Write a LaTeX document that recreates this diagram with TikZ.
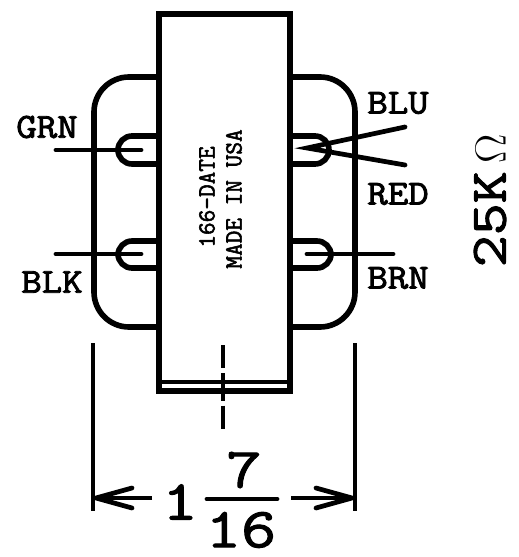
\documentclass[tikz,border=0pt]{standalone}
\usepackage{fontspec}
\newfontfamily\stampfont[FakeBold=2.2]{Latin Modern Mono}
\newfontfamily\wirefont[FakeBold=2.6,FakeStretch=1.13]{Latin Modern Mono}
\newfontfamily\dimfont[FakeBold=2,FakeStretch=1.22]{Latin Modern Mono}
\tikzset{
    outline/.style={line width=3.2pt},
    lead/.style={line width=2.7pt, line cap=round},
    dimline/.style={line width=2pt},
    wire/.style={font=\fontsize{20}{20}\selectfont\wirefont, inner sep=0pt},
    stamp/.style={font=\fontsize{14}{14}\selectfont\stampfont, inner sep=0pt, rotate=90},
    dimtext/.style={font=\fontsize{32}{32}\selectfont\dimfont, inner sep=0pt},
}
\begin{document}
\begin{tikzpicture}[x=0.02cm, y=-0.02cm]
    \useasboundingbox (0,0) rectangle (518,557);
    % core
    \draw[outline] (159,14) rectangle (290,391);
    \draw[line width=2.2pt] (159,382) -- (290,382);
    % frame on both sides
    \draw[outline, rounded corners=0.7cm] (159,77) -- (94,77) -- (94,327) -- (159,327);
    \draw[outline, rounded corners=0.7cm] (290,77) -- (355,77) -- (355,327) -- (290,327);
    % terminals
    \draw[outline, rounded corners=0.28cm] (159,136) -- (118,136) -- (118,164) -- (159,164);
    \draw[outline, rounded corners=0.28cm] (159,241) -- (118,241) -- (118,268) -- (159,268);
    \draw[outline, rounded corners=0.28cm] (290,136) -- (329,136) -- (329,164) -- (290,164);
    \draw[outline, rounded corners=0.28cm] (290,241) -- (331,241) -- (331,268) -- (290,268);
    % leads
    \coordinate (grnin) at (141,150);
    \coordinate (grnout) at (56,150);
    \coordinate (blkin) at (141,254);
    \coordinate (blkout) at (56,254);
    \coordinate (tap) at (307,148);
    \coordinate (bluout) at (405,127);
    \coordinate (redout) at (405,165);
    \coordinate (brnin) at (307,254);
    \coordinate (brnout) at (393,254);
    \draw[lead] (grnout) -- (grnin);
    \draw[lead] (blkout) -- (blkin);
    \draw[lead] (bluout) -- (tap) -- (redout);
    \draw[lead] (brnin) -- (brnout);
    % labels
    \node[wire] (grn) at (47,127) {GRN};
    \node[wire] (blk) at (52,282) {BLK};
    \node[wire] (blu) at (398,103) {BLU};
    \node[wire] (red) at (398,194) {RED};
    \node[wire] (brn) at (398,278) {BRN};
    \node[stamp] (date) at (207,197) {166-DATE};
    \node[stamp] (usa) at (234,199) {MADE IN USA};
    \node[dimtext, font=\fontsize{29}{29}\selectfont\dimfont, rotate=90] (ohms) at (490,201) {25K$\,\Omega$};
    % centre line
    \draw[line width=2pt, dash pattern=on 13pt off 3pt on 16pt off 2.5pt on 14pt] (223,345) -- (223,429);
    % width
    \coordinate (lefttop) at (93,343);
    \coordinate (leftbot) at (93,511);
    \coordinate (righttop) at (355,343);
    \coordinate (rightbot) at (355,511);
    \coordinate (leftend) at (96,498);
    \coordinate (rightend) at (352,498);
    \coordinate (leftstart) at (152,498);
    \coordinate (rightstart) at (291,498);
    \coordinate (leftbarbt) at (132,488);
    \coordinate (leftbarbb) at (132,508);
    \coordinate (rightbarbt) at (316,488);
    \coordinate (rightbarbb) at (316,508);
    \draw[dimline] (lefttop) -- (leftbot);
    \draw[dimline] (righttop) -- (rightbot);
    \draw[dimline] (leftstart) -- (leftend);
    \draw[dimline] (rightstart) -- (rightend);
    \draw[lead, line join=round] (leftbarbt) -- (leftend) -- (leftbarbb);
    \draw[lead, line join=round] (rightbarbt) -- (rightend) -- (rightbarbb);
    \node[dimtext] (one) at (180,502) {1};
    \node[dimtext] (seven) at (244,470) {7};
    \node[dimtext] (sixteen) at (241,530) {16};
    \coordinate (barl) at (207,499);
    \coordinate (barr) at (277,499);
    \draw[lead] (barl) -- (barr);
\end{tikzpicture}
\end{document}
